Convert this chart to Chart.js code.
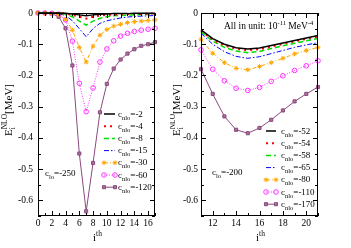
<!DOCTYPE html>
<html><head><meta charset="utf-8">
<script src="https://cdn.jsdelivr.net/npm/chart.js@4.4.1/dist/chart.umd.min.js"></script>
<style>
html,body{margin:0;padding:0;background:#fff;width:351px;height:248px;overflow:hidden}
canvas{position:absolute;top:0}
#c1{left:0}
#c2{left:170px}
</style></head><body>
<canvas id="c1" width="170" height="248"></canvas>
<canvas id="c2" width="181" height="248"></canvas>
<script>
// ---------- data ----------
const leftI = [0,1,2,3,4,5,6,7,8,9,10,11,12,13,14,15,16,17];
const leftCnlo = [-2,-4,-8,-15,-30,-60,-120];
const leftC2   = [0,0,0,0,-0.001,-0.003,-0.006,-0.009,-0.006,-0.004,-0.003,-0.002,-0.002,-0.002,-0.001,-0.001,-0.001,-0.001];
const leftC4   = [0,0,0,0,-0.002,-0.006,-0.012,-0.018,-0.012,-0.008,-0.006,-0.005,-0.004,-0.003,-0.003,-0.003,-0.002,-0.002];
const leftC8   = [0,0,0,-0.001,-0.004,-0.012,-0.026,-0.039,-0.026,-0.017,-0.012,-0.009,-0.008,-0.007,-0.006,-0.005,-0.005,-0.004];
const leftC15  = [0,0,-0.001,-0.002,-0.008,-0.025,-0.05,-0.076,-0.05,-0.033,-0.025,-0.02,-0.016,-0.013,-0.011,-0.01,-0.009,-0.008];
const leftC30  = [0,-0.001,-0.002,-0.005,-0.02,-0.055,-0.11,-0.157,-0.106,-0.071,-0.053,-0.042,-0.036,-0.031,-0.028,-0.026,-0.024,-0.022];
const leftC60  = [0,0,-0.001,-0.004,-0.022,-0.09,-0.225,-0.316,-0.24,-0.157,-0.115,-0.089,-0.074,-0.065,-0.059,-0.055,-0.052,-0.049];
const leftC120 = [0,0,-0.002,-0.012,-0.049,-0.168,-0.45,-0.635,-0.48,-0.318,-0.227,-0.178,-0.149,-0.13,-0.116,-0.105,-0.1,-0.093];
const leftClo = -250;

const rightI = [11,12,13,14,15,16,17,18,19,20,21];
const rightCnlo = [-52,-54,-58,-65,-80,-110,-170];
const rightC52  = [-0.054,-0.082,-0.1,-0.111,-0.115,-0.112,-0.104,-0.096,-0.088,-0.08,-0.072];
const rightC54  = [-0.057,-0.085,-0.104,-0.115,-0.119,-0.116,-0.108,-0.099,-0.091,-0.083,-0.076];
const rightC58  = [-0.06,-0.09,-0.11,-0.122,-0.127,-0.123,-0.114,-0.105,-0.097,-0.089,-0.082];
const rightC65  = [-0.065,-0.1,-0.124,-0.139,-0.145,-0.14,-0.13,-0.12,-0.11,-0.102,-0.095];
const rightC80  = [-0.084,-0.129,-0.159,-0.177,-0.182,-0.171,-0.159,-0.145,-0.131,-0.12,-0.11];
const rightC110 = [-0.118,-0.18,-0.217,-0.241,-0.248,-0.238,-0.219,-0.201,-0.184,-0.169,-0.153];
const rightC170 = [-0.18,-0.259,-0.331,-0.374,-0.385,-0.368,-0.342,-0.312,-0.283,-0.259,-0.237];
const rightClo = -200;

const leftXTicks  = [0,2,4,6,8,10,12,14,16];
const rightXTicks = [12,14,16,18,20];
const yTicks = [0,-0.1,-0.2,-0.3,-0.4,-0.5,-0.6];

// ---------- styles ----------
const FONT = "'Liberation Serif','Times New Roman',serif";
const styles = [
  {color:'#000000', width:1.5, dash:[]},
  {color:'#ff0000', width:2,   dash:[2,4]},
  {color:'#00e000', width:1.5, dash:[5,3]},
  {color:'#0000ff', width:1,   dash:[5,2,1.5,2]},
  {color:'#ffa500', width:1,   dash:[4,2,1,2], point:'star', r:2.4, fill:'#ffa500'},
  {color:'#ff30ff', width:1,   dash:[1,1.5], point:'circle', r:2.3, fill:'rgba(255,255,255,0)'},
  {color:'#8a4a7e', width:1,   dash:[], point:'rect', r:2.2, fill:'#a87098'}
];

function fnt(s){ return s + 'px ' + FONT; }
function richWidth(ctx, parts){
  let w = 0;
  for (const p of parts){
    if (p.stack){ let m=0; for (const q of p.stack){ ctx.font=fnt(q.s); m=Math.max(m, ctx.measureText(q.t).width);} w+=m; }
    else { ctx.font=fnt(p.s); w+=ctx.measureText(p.t).width; }
  }
  return w;
}
function richDraw(ctx, parts, x, y){
  ctx.textBaseline = 'alphabetic'; ctx.textAlign = 'left'; ctx.fillStyle = '#000';
  for (const p of parts){
    if (p.stack){ let m=0; for (const q of p.stack){ ctx.font=fnt(q.s); ctx.fillText(q.t, x, y+(q.dy||0)); m=Math.max(m, ctx.measureText(q.t).width);} x+=m; }
    else { ctx.font=fnt(p.s); ctx.fillText(p.t, x, y+(p.dy||0)); x+=ctx.measureText(p.t).width; }
  }
}

const decor = {
  id:'decor',
  afterDraw(chart, args, o){
    const {ctx, chartArea:a, scales:{x, y}} = chart;
    ctx.save();
    // frame
    ctx.strokeStyle = '#000'; ctx.lineWidth = 1; ctx.setLineDash([]);
    ctx.strokeRect(a.left+0.5, a.top+0.5, a.right-a.left-1, a.bottom-a.top-1);
    // inward ticks on all sides
    ctx.beginPath();
    for (let v = Math.ceil(x.min); v <= x.max; v++){
      const px = Math.round(x.getPixelForValue(v)) + 0.5;
      const L = o.xMajor.includes(v) ? 5 : 3;
      ctx.moveTo(px, a.bottom); ctx.lineTo(px, a.bottom - L);
      ctx.moveTo(px, a.top); ctx.lineTo(px, a.top + L);
    }
    for (let k = 0; k <= 13; k++){
      const v = -0.05 * k;
      if (v < y.min - 1e-9) break;
      const py = Math.round(y.getPixelForValue(v)) + 0.5;
      const L = (k % 2 === 0) ? 5 : 3;
      ctx.moveTo(a.left, py); ctx.lineTo(a.left + L, py);
      ctx.moveTo(a.right, py); ctx.lineTo(a.right - L, py);
    }
    ctx.stroke();

    // y title (rotated)
    const yParts = [{t:'E', s:11},{stack:[{t:'i', s:7.5, dy:3},{t:'NLO', s:7.5, dy:-5}]},{t:'[MeV]', s:11}];
    ctx.save();
    ctx.translate(o.yTitleX, o.yTitleY);
    ctx.rotate(-Math.PI/2);
    richDraw(ctx, yParts, -richWidth(ctx, yParts)/2, 0);
    ctx.restore();

    // x title
    const xParts = [{t:'i', s:11},{t:'th', s:7.5, dy:-5}];
    const cx = (a.left + a.right)/2;
    richDraw(ctx, xParts, cx - richWidth(ctx, xParts)/2 + 1, 241);

    // legend
    chart.data.datasets.forEach((ds, i) => {
      const st = styles[i];
      const ry = o.legY + i * o.legDy;
      ctx.strokeStyle = st.color; ctx.lineWidth = st.width; ctx.setLineDash(st.dash);
      ctx.beginPath(); ctx.moveTo(o.legX1, ry); ctx.lineTo(o.legX2, ry); ctx.stroke();
      ctx.setLineDash([]);
      if (st.point){
        ctx.fillStyle = st.fill; ctx.strokeStyle = st.color; ctx.lineWidth = 1;
        for (const px of [o.legX1, o.legX2]){
          Chart.helpers.drawPoint(ctx, {pointStyle:st.point, radius:st.r, rotation:0, borderWidth:1}, px, ry);
        }
      }
      richDraw(ctx, [{t:'c', s:9},{t:'nlo', s:6.5, dy:3},{t:'=' + o.cnlo[i], s:9}], o.legTx, ry + 2.5);
    });

    // c_lo annotation
    richDraw(ctx, [{t:'c', s:9},{t:'lo', s:6.5, dy:3},{t:'=' + o.clo, s:9}], o.cloX, o.cloY);

    if (o.unit){
      richDraw(ctx, [{t:'All in unit: 10', s:9.5},{t:'-11', s:6.5, dy:-4},{t:' MeV', s:9.5},{t:'-4', s:6.5, dy:-4}], o.unitX, o.unitY);
    }
    ctx.restore();
  }
};

function makeDatasets(xs, series){
  return series.map((vals, i) => {
    const st = styles[i];
    return {
      data: xs.map((v, k) => ({x: v, y: vals[k]})),
      borderColor: st.color, borderWidth: st.width, borderDash: st.dash,
      backgroundColor: st.fill || st.color,
      pointStyle: st.point || 'circle', pointRadius: st.point ? st.r : 0,
      pointBorderColor: st.color, pointBackgroundColor: st.fill || st.color, pointBorderWidth: 1,
      tension: 0, fill: false, clip: false
    };
  });
}

function makeChart(id, xs, series, xmin, xmax, xTicks, geom, deco){
  return new Chart(document.getElementById(id), {
    type: 'line',
    data: { datasets: makeDatasets(xs, series) },
    options: {
      responsive: false, animation: false, devicePixelRatio: 1,
      layout: { autoPadding: false, padding: {left: 0, right: geom.padR, top: 13, bottom: 0} },
      plugins: { legend: {display: false}, tooltip: {enabled: false}, decor: deco },
      scales: {
        x: {
          type: 'linear', min: xmin, max: xmax,
          afterBuildTicks: s => { s.ticks = xTicks.map(v => ({value: v})); },
          afterFit: s => { s.height = 32; },
          ticks: { font: {family: FONT, size: 9.5}, color: '#000', padding: 2, maxRotation: 0, autoSkip: false, callback: v => String(v) },
          grid: { display: false, drawTicks: false }, border: { display: false }
        },
        y: {
          type: 'linear', min: -0.65, max: 0,
          afterBuildTicks: s => { s.ticks = yTicks.map(v => ({value: v})); },
          afterFit: s => { s.width = geom.yw; },
          ticks: { font: {family: FONT, size: 9.5}, color: '#000', padding: geom.ypad, autoSkip: false, callback: v => (v === 0 ? '0' : v.toFixed(1)) },
          grid: { display: false, drawTicks: false }, border: { display: false }
        }
      }
    },
    plugins: [decor]
  });
}

makeChart('c1', leftI, [leftC2, leftC4, leftC8, leftC15, leftC30, leftC60, leftC120], 0, 17, leftXTicks,
  {padR: 15, yw: 38, ypad: 5},
  {xMajor: leftXTicks, yTitleX: 12, yTitleY: 110, legY: 114, legDy: 12.2, legX1: 104, legX2: 115, legTx: 118,
   cnlo: leftCnlo, clo: leftClo, cloX: 45, cloY: 176});

makeChart('c2', rightI, [rightC52, rightC54, rightC58, rightC65, rightC80, rightC110, rightC170], 11, 21, rightXTicks,
  {padR: 33, yw: 31, ypad: 3},
  {xMajor: rightXTicks, yTitleX: 10, yTitleY: 110, legY: 131, legDy: 12.2, legX1: 96, legX2: 106, legTx: 111,
   cnlo: rightCnlo, clo: rightClo, cloX: 42, cloY: 175, unit: true, unitX: 54, unitY: 29});
</script>
</body></html>
